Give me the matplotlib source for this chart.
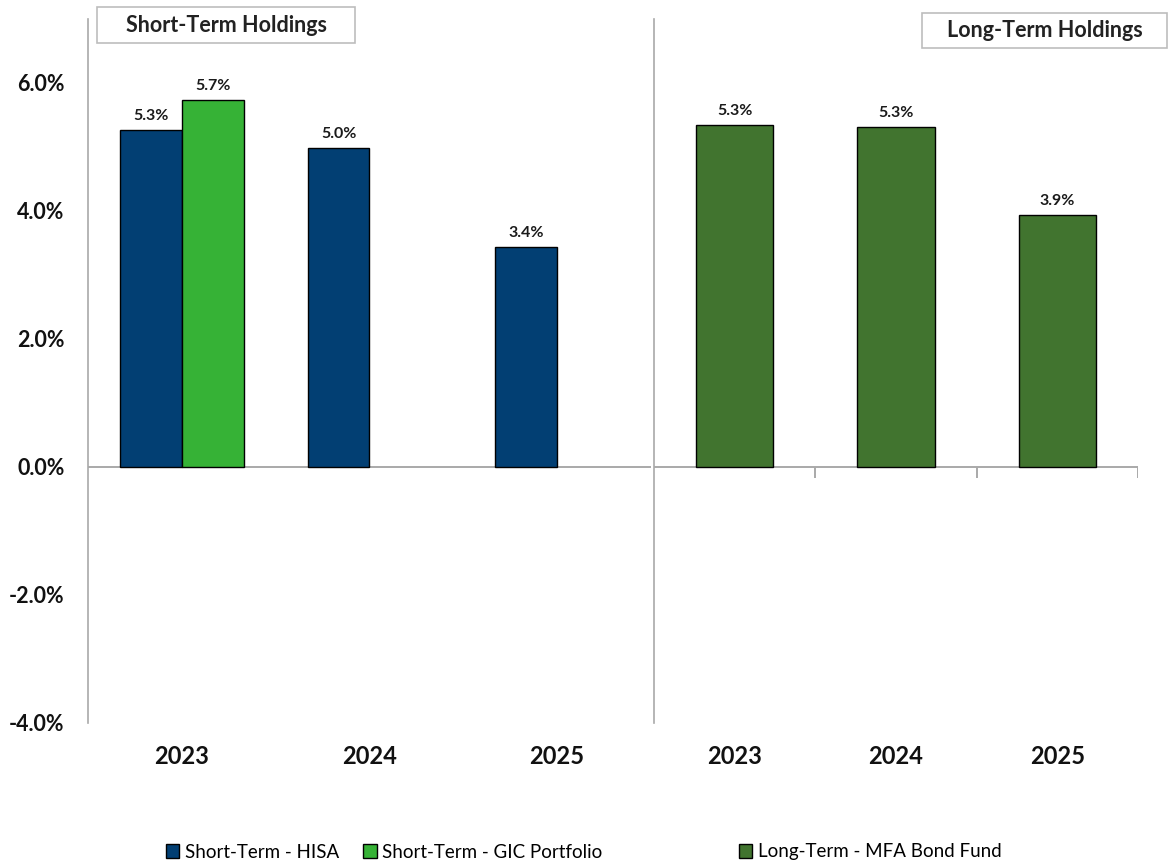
import matplotlib
matplotlib.use("Agg")
import matplotlib.pyplot as plt
from matplotlib.patches import Rectangle, Patch
import numpy as np

# ---- data ----
years = ["2023", "2024", "2025"]
hisa = [5.26, 4.98, 3.43]            # Short-Term - HISA (%)
gic = [5.73, np.nan, np.nan]         # Short-Term - GIC Portfolio (%)
bond = [5.34, 5.31, 3.94]            # Long-Term - MFA Bond Fund (%)
yticks = [-4, -2, 0, 2, 4, 6]
series_names = ["Short-Term - HISA", "Short-Term - GIC Portfolio", "Long-Term - MFA Bond Fund"]
panel_titles = ["Short-Term Holdings", "Long-Term Holdings"]

# ---- style ----
FONT = "Lato"
C_HISA = "#023f73"
C_GIC = "#36b236"
C_BOND = "#41742f"
GRAY = "#a9a9a9"

W, H = 1169, 864
fig = plt.figure(figsize=(W / 100, H / 100), dpi=100)

def fx(px):
    return px / W

def fy(py):
    return 1 - py / H

ylo, yhi = -4.0, 7.0
top_px, bot_px = 19, 722.5

axL = fig.add_axes([fx(88), fy(bot_px), fx(651 - 88), fy(top_px) - fy(bot_px)])
axR = fig.add_axes([fx(654), fy(bot_px), fx(1138 - 654), fy(top_px) - fy(bot_px)])

x = np.arange(len(years))

def label_bars(ax, bars, vals):
    for b, v in zip(bars, vals):
        if np.isnan(v):
            continue
        ax.annotate(f"{v:.1f}%", (b.get_x() + b.get_width() / 2, v),
                    xytext=(0, 5), textcoords="offset points",
                    ha="center", va="bottom", fontsize=11.5,
                    fontweight="bold", family=FONT, color="#1a1a1a")

# Left panel: clustered bars
bw = 0.33
b1 = axL.bar(x - bw / 2, hisa, bw, color=C_HISA, edgecolor="black", linewidth=1.0, zorder=3)
b2 = axL.bar(x + bw / 2, gic, bw, color=C_GIC, edgecolor="black", linewidth=1.0, zorder=3)
label_bars(axL, b1, hisa)
label_bars(axL, b2, gic)

# Right panel
bwR = 0.48
b3 = axR.bar(x, bond, bwR, color=C_BOND, edgecolor="black", linewidth=1.0, zorder=3)
label_bars(axR, b3, bond)

for ax in (axL, axR):
    ax.set_xlim(-0.5, len(years) - 0.5)
    ax.set_ylim(ylo, yhi)
    for s in ("top", "right", "bottom"):
        ax.spines[s].set_visible(False)
    ax.spines["left"].set_color(GRAY)
    ax.spines["left"].set_linewidth(1.2)
    ax.axhline(0, color=GRAY, linewidth=1.4, zorder=2)
    ax.set_xticks(x)
    ax.set_xticklabels(years)
    ax.tick_params(axis="x", length=0, pad=16)
    for lab in ax.get_xticklabels():
        lab.set_fontsize(17)
        lab.set_fontweight("bold")
        lab.set_family(FONT)
        lab.set_color("#111111")
    ax.patch.set_visible(False)

axL.set_yticks(yticks)
axL.set_yticklabels([f"{v:.1f}%" for v in yticks])
axL.tick_params(axis="y", length=0, pad=17)
for lab in axL.get_yticklabels():
    lab.set_fontsize(15.5)
    lab.set_fontweight("bold")
    lab.set_family(FONT)
    lab.set_color("#111111")

axR.set_yticks([])
# category boundary ticks on the right panel's zero line
axR.vlines([0.5, 1.5, 2.5], -0.17, 0, color=GRAY, linewidth=1.4, zorder=2)

# panel title boxes
def title_box(x0, y0, x1, y1, text):
    r = Rectangle((fx(x0), fy(y1)), fx(x1 - x0), fy(y0) - fy(y1),
                  transform=fig.transFigure, facecolor="white",
                  edgecolor="#bdbdbd", linewidth=1.2)
    fig.add_artist(r)
    fig.text(fx((x0 + x1) / 2), fy((y0 + y1) / 2), text, ha="center", va="center",
             fontsize=15.5, fontweight="bold", family=FONT, color="#222222")

title_box(97, 7, 355, 43, panel_titles[0])
title_box(922, 13, 1167, 48, panel_titles[1])

# legends
hL = [Patch(facecolor=C_HISA, edgecolor="black", linewidth=1.0, label=series_names[0]),
      Patch(facecolor=C_GIC, edgecolor="black", linewidth=1.0, label=series_names[1])]
hR = [Patch(facecolor=C_BOND, edgecolor="black", linewidth=1.0, label=series_names[2])]
legkw = dict(frameon=False, handlelength=0.7, handleheight=0.7, handletextpad=0.3,
             prop={"family": FONT, "size": 13.5}, borderaxespad=0, borderpad=0)
lg1 = fig.legend(handles=hL, loc="center left", bbox_to_anchor=(fx(166), fy(852)),
                 ncol=2, columnspacing=1.3, **legkw)
lg2 = fig.legend(handles=hR, loc="center left", bbox_to_anchor=(fx(739), fy(852)),
                 ncol=1, **legkw)

fig.savefig("out.png", dpi=100, facecolor="white")
